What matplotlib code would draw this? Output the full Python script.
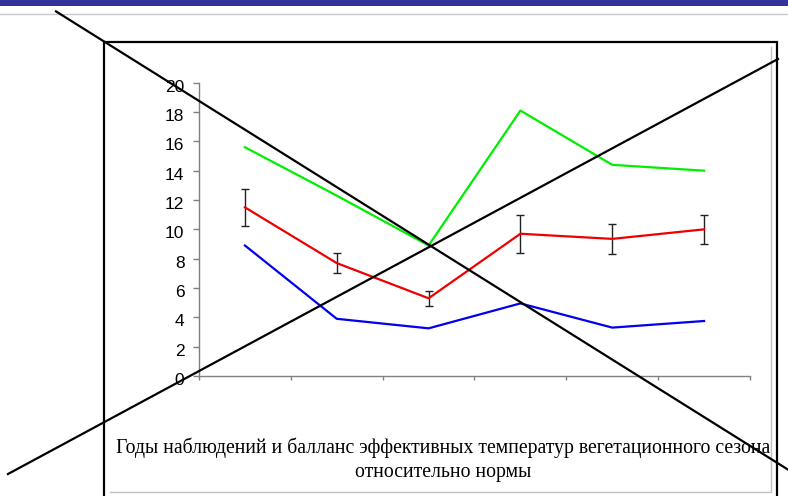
import matplotlib.pyplot as plt
from matplotlib.lines import Line2D
from matplotlib.patches import Rectangle
import matplotlib.transforms as mtransforms
import numpy as np

W, H = 788, 496

# six observation years, points sit in the middle of each category
years = np.arange(6) + 0.5
green = [15.6, 12.3, 8.9, 18.1, 14.4, 14.0]
red = [11.5, 7.7, 5.3, 9.7, 9.35, 10.0]
red_err = [1.25, 0.7, 0.5, 1.3, 1.0, 1.0]
blue = [8.9, 3.9, 3.25, 4.95, 3.3, 3.75]
yticks = np.arange(0, 21, 2)
caption = ('Годы наблюдений и балланс эффективных температур вегетационного сезона\n'
           'относительно нормы')


def px(x, y):
    # pixel position (from top-left) -> figure fraction
    return x / W, 1 - y / H


fig = plt.figure(figsize=(W / 100, H / 100), dpi=100)
fig.patch.set_facecolor('white')

# slide header: blue bar and thin grey rule
fig.add_artist(Rectangle((0, 1 - 6 / H), 1, 6 / H, transform=fig.transFigure,
                         color='#333399', lw=0))
fig.add_artist(Line2D([0, 1], [1 - 14 / H] * 2, transform=fig.transFigure,
                      color='#c8c8c8', lw=1))

# frame around the chart
fx0, fy0 = px(104, 42)
fx1, _ = px(777, 0)
fig.add_artist(Rectangle((fx0, -0.1), fx1 - fx0, fy0 + 0.1, transform=fig.transFigure,
                         fill=False, ec='black', lw=1.6))
# grey inner edge (right and bottom)
sx, sy = px(771, 47)
bx, by = px(110, 492)
fig.add_artist(Line2D([bx, sx, sx], [by, by, sy], transform=fig.transFigure,
                      color='#c0c0c0', lw=1))

ax = fig.add_axes([199 / W, 1 - 376 / H, (750 - 199) / W, (376 - 82.7) / H])
ax.plot(years, green, color='#00ee00', lw=1.6, zorder=3)
ax.plot(years, blue, color='#0000ee', lw=1.6, zorder=3)
ax.errorbar(years, red, yerr=red_err, color='#ee0000', lw=1.6, ecolor='#222222',
            elinewidth=1, capsize=3, capthick=1, zorder=3)

ax.set_xlim(0, 6)
ax.set_ylim(0, 20)
ax.set_yticks(yticks)
ax.set_yticklabels([str(v) for v in yticks], family='Liberation Sans', fontsize=12.5)
ax.set_xticks(np.arange(7))
ax.set_xticklabels([])
for s in ['top', 'right']:
    ax.spines[s].set_visible(False)
for s in ['left', 'bottom']:
    ax.spines[s].set_color('#808080')
    ax.spines[s].set_linewidth(1)
ax.tick_params(axis='y', length=4, width=1, color='#808080', pad=6.5, labelcolor='black')
ax.tick_params(axis='x', length=3, width=1, color='#808080')
shift = mtransforms.ScaledTranslation(0, -3 / 100, fig.dpi_scale_trans)
for lab in ax.get_yticklabels():
    lab.set_transform(lab.get_transform() + shift)
ax.patch.set_alpha(0)

fig.text(443 / W, 1 - 460 / H, caption, ha='center', va='center',
         family='Liberation Serif', fontsize=14.2, linespacing=1.35)

# two black strokes crossing the whole chart
cross = [((56, 11.4), (788, 469.6)), ((8, 474), (778, 59))]
for (xa, ya), (xb, yb) in cross:
    (u0, v0), (u1, v1) = px(xa, ya), px(xb, yb)
    fig.add_artist(Line2D([u0, u1], [v0, v1], transform=fig.transFigure,
                          color='black', lw=1.6, zorder=10))

fig.savefig('out.png', dpi=100)
